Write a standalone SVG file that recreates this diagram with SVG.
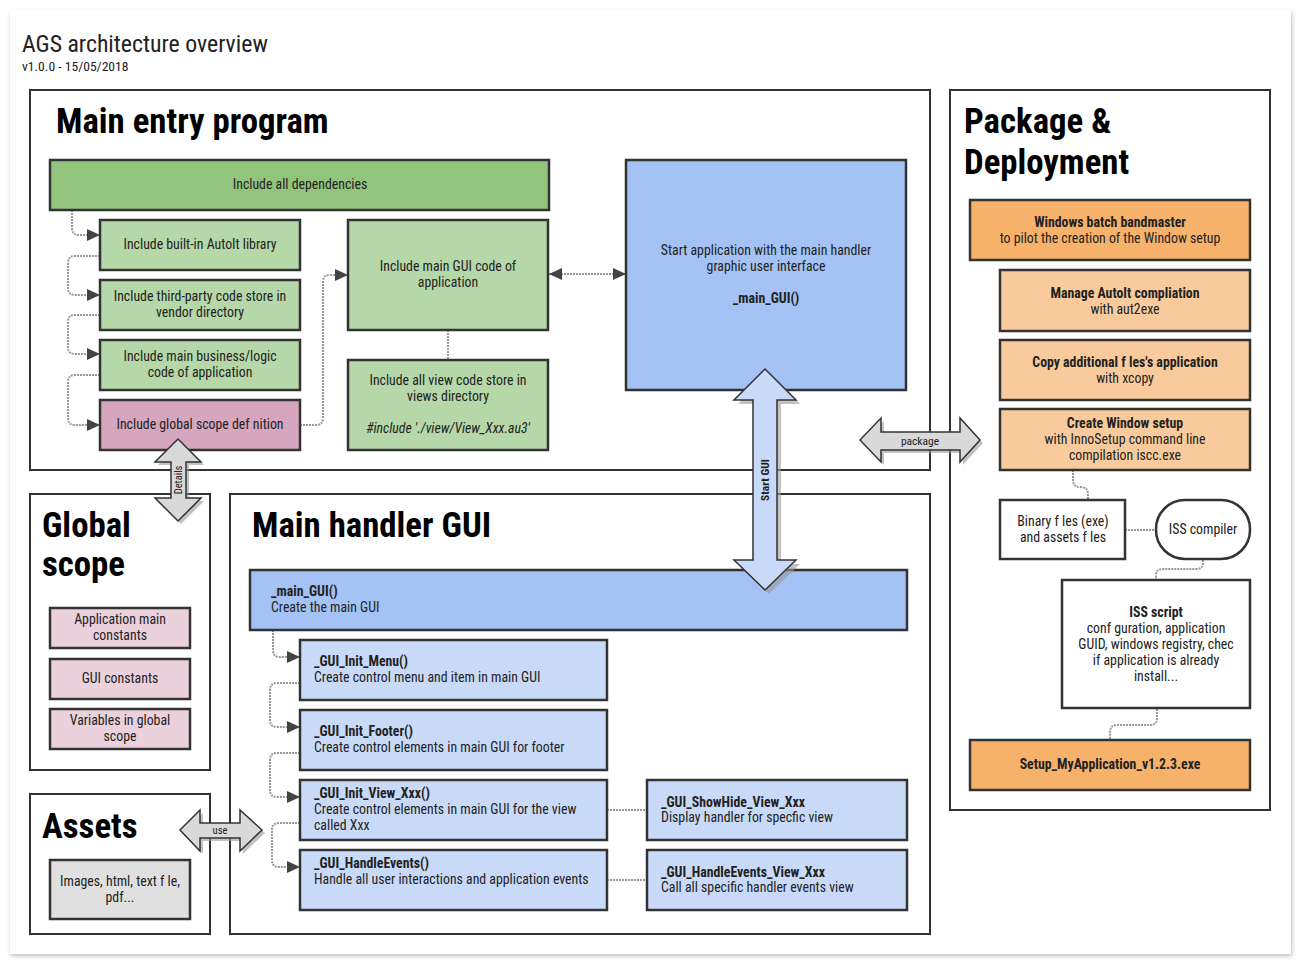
<svg xmlns="http://www.w3.org/2000/svg" width="1302" height="965" viewBox="0 0 1302 965">
<defs>
<filter id="sh" x="-5%" y="-5%" width="110%" height="110%"><feDropShadow dx="1" dy="2" stdDeviation="2" flood-color="#000" flood-opacity="0.25"/></filter>
<marker id="ah" markerWidth="13" markerHeight="12" refX="13" refY="6" orient="auto-start-reverse" markerUnits="userSpaceOnUse"><path d="M0,0 L13,6 L0,12 z" fill="#434343"/></marker>
<style>
text{font-family:"Roboto Condensed","Roboto",sans-serif;font-stretch:condensed;fill:#222}
.t{font-size:13.8px;text-anchor:middle}
.l{font-size:13.8px}
.b{font-weight:bold}
.h{font-size:34.8px;font-weight:bold;fill:#000}
.box{stroke:#333;stroke-width:2.5}
.cont{fill:#fff;stroke:#333;stroke-width:2}
.dg{fill:#93c47d}.lg{fill:#b6d7a8}.pk{fill:#d5a6bd}.lp{fill:#ead1dc}
.bl{fill:#a4c2f4}.lb{fill:#c9daf8}.or{fill:#f6b26b}.lo{fill:#f9cb9c}.wh{fill:#fff}.gr{fill:#e0e0e0}
.c{fill:none;stroke:#999;stroke-width:2;stroke-dasharray:2 1}
.ba{stroke:#333;stroke-width:1.5}
.bs{fill:#999;opacity:0.6}
</style>
</defs>
<rect x="0" y="0" width="1302" height="965" fill="#fff"/>
<rect x="10" y="10" width="1281" height="944" fill="#fff" filter="url(#sh)"/>
<g id="title">
<text x="22" y="52" style="font-size:23.8px">AGS architecture overview</text>
<text x="22" y="71" style="font-size:13.6px">v1.0.0 - 15/05/2018</text>
</g>
<g id="containers">
<g id="main-entry"><rect class="cont" x="30" y="90" width="900" height="380"/><text class="h" x="56" y="133">Main entry program</text></g>
<g id="package-deployment"><rect class="cont" x="950" y="90" width="320" height="720"/><text class="h" x="964" y="133">Package &amp;</text><text class="h" x="964" y="174">Deployment</text></g>
<g id="global-scope"><rect class="cont" x="30" y="494" width="180" height="276"/><text class="h" x="42" y="537">Global</text><text class="h" x="42" y="576">scope</text></g>
<g id="assets"><rect class="cont" x="30" y="794" width="180" height="140"/><text class="h" x="42" y="838">Assets</text></g>
<g id="main-handler"><rect class="cont" x="230" y="494" width="700" height="440"/><text class="h" x="252" y="537">Main handler GUI</text></g>
</g>
<g id="connectors">
<path class="c" d="M72,210 V228 Q72,235 79,235 H100" marker-end="url(#ah)"/>
<path class="c" d="M100,256 H75 Q68,256 68,263 V288 Q68,295 75,295 H100" marker-end="url(#ah)"/>
<path class="c" d="M100,315 H75 Q68,315 68,322 V347 Q68,354 75,354 H100" marker-end="url(#ah)"/>
<path class="c" d="M100,375 H75 Q68,375 68,382 V418 Q68,425 75,425 H100" marker-end="url(#ah)"/>
<path class="c" d="M300,425 H316 Q323,425 323,418 V282 Q323,275 330,275 H348" marker-end="url(#ah)"/>
<path class="c" d="M549,274 H626" marker-start="url(#ah)" marker-end="url(#ah)"/>
<path class="c" d="M448,330 V360"/>
<path class="c" d="M1073,470 V480 Q1073,487 1080,487 Q1088,487 1088,494 V500"/>
<path class="c" d="M1125,530 H1156"/>
<path class="c" d="M1203,560 V563 Q1203,569 1196,569 H1163 Q1156,569 1156,575 V580"/>
<path class="c" d="M1157,709 V718 Q1157,725 1150,725 H1117 Q1110,725 1110,732 V740"/>
<path class="c" d="M273,630 V650 Q273,657 280,657 H300" marker-end="url(#ah)"/>
<path class="c" d="M300,683 H277 Q270,683 270,690 V720 Q270,727 277,727 H300" marker-end="url(#ah)"/>
<path class="c" d="M300,753 H277 Q270,753 270,760 V790 Q270,797 277,797 H300" marker-end="url(#ah)"/>
<path class="c" d="M300,823 H279 Q272,823 272,830 V860 Q272,867 279,867 H300" marker-end="url(#ah)"/>
<path class="c" d="M607,810 H647"/>
<path class="c" d="M607,880 H647"/>
</g>
<g id="n-deps"><rect class="box dg" x="50" y="160" width="499" height="50"/><text class="t" x="300" y="189">Include all dependencies</text></g>
<g id="n-builtin"><rect class="box lg" x="100" y="220" width="200" height="50"/><text class="t" x="200" y="249">Include built-in AutoIt library</text></g>
<g id="n-vendor"><rect class="box lg" x="100" y="280" width="200" height="50"/><text class="t" x="200" y="301">Include third-party code store in</text><text class="t" x="200" y="317">vendor directory</text></g>
<g id="n-business"><rect class="box lg" x="100" y="340" width="200" height="50"/><text class="t" x="200" y="361">Include main business/logic</text><text class="t" x="200" y="377">code of application</text></g>
<g id="n-globaldef"><rect class="box pk" x="100" y="400" width="200" height="50"/><text class="t" x="200" y="429">Include global scope def nition</text></g>
<g id="n-maingui"><rect class="box lg" x="348" y="220" width="200" height="110"/><text class="t" x="448" y="271">Include main GUI code of</text><text class="t" x="448" y="287">application</text></g>
<g id="n-views"><rect class="box lg" x="348" y="360" width="200" height="90"/><text class="t" x="448" y="385">Include all view code store in</text><text class="t" x="448" y="401">views directory</text><text class="t" x="448" y="433" font-style="italic">#include './view/View_Xxx.au3'</text></g>
<g id="n-start"><rect class="box bl" x="626" y="160" width="280" height="230"/><text class="t" x="766" y="255">Start application with the main handler</text><text class="t" x="766" y="271">graphic user interface</text><text class="t b" x="766" y="303">_main_GUI()</text></g>
<g id="n-batch"><rect class="box or" x="970" y="200" width="280" height="60"/><text class="t b" x="1110" y="227">Windows batch bandmaster</text><text class="t" x="1110" y="243">to pilot the creation of the Window setup</text></g>
<g id="n-aut2exe"><rect class="box lo" x="1000" y="270" width="250" height="61"/><text class="t b" x="1125" y="298">Manage AutoIt compliation</text><text class="t" x="1125" y="314">with aut2exe</text></g>
<g id="n-xcopy"><rect class="box lo" x="1000" y="340" width="250" height="60"/><text class="t b" x="1125" y="367">Copy additional f les's application</text><text class="t" x="1125" y="383">with xcopy</text></g>
<g id="n-setup"><rect class="box lo" x="1000" y="409" width="250" height="61"/><text class="t b" x="1125" y="428">Create Window setup</text><text class="t" x="1125" y="444">with InnoSetup command line</text><text class="t" x="1125" y="460">compilation iscc.exe</text></g>
<g id="n-binary"><rect class="box wh" x="1000" y="500" width="125" height="59"/><text class="t" x="1063" y="526">Binary f les (exe)</text><text class="t" x="1063" y="542">and assets f les</text></g>
<g id="n-isscomp"><rect class="box wh" x="1156" y="500" width="94" height="59" rx="29" ry="29"/><text class="t" x="1203" y="534">ISS compiler</text></g>
<g id="n-issscript"><rect class="box wh" x="1062" y="580" width="188" height="128"/><text class="t b" x="1156" y="617">ISS script</text><text class="t" x="1156" y="633">conf guration, application</text><text class="t" x="1156" y="649">GUID, windows registry, chec</text><text class="t" x="1156" y="665">if application is already</text><text class="t" x="1156" y="681">install...</text></g>
<g id="n-exe"><rect class="box or" x="970" y="740" width="280" height="50"/><text class="t b" x="1110" y="769">Setup_MyApplication_v1.2.3.exe</text></g>
<g id="n-appconst"><rect class="box lp" x="50" y="608" width="140" height="40"/><text class="t" x="120" y="624">Application main</text><text class="t" x="120" y="640">constants</text></g>
<g id="n-guiconst"><rect class="box lp" x="50" y="659" width="140" height="40"/><text class="t" x="120" y="683">GUI constants</text></g>
<g id="n-vars"><rect class="box lp" x="50" y="709" width="140" height="40"/><text class="t" x="120" y="725">Variables in global</text><text class="t" x="120" y="741">scope</text></g>
<g id="n-assetfiles"><rect class="box gr" x="50" y="860" width="140" height="59"/><text class="t" x="120" y="886">Images, html, text f le,</text><text class="t" x="120" y="902">pdf...</text></g>
<g id="n-mainGUIfn"><rect class="box bl" x="250" y="570" width="657" height="60"/><text class="l b" x="271" y="596">_main_GUI()</text><text class="l" x="271" y="612">Create the main GUI</text></g>
<g id="n-menu"><rect class="box lb" x="300" y="640" width="307" height="60"/><text class="l b" x="314" y="666">_GUI_Init_Menu()</text><text class="l" x="314" y="682">Create control menu and item in main GUI</text></g>
<g id="n-footer"><rect class="box lb" x="300" y="710" width="307" height="60"/><text class="l b" x="314" y="736">_GUI_Init_Footer()</text><text class="l" x="314" y="752">Create control elements in main GUI for footer</text></g>
<g id="n-view"><rect class="box lb" x="300" y="780" width="307" height="60"/><text class="l b" x="314" y="798">_GUI_Init_View_Xxx()</text><text class="l" x="314" y="814">Create control elements in main GUI for the view</text><text class="l" x="314" y="830">called Xxx</text></g>
<g id="n-events"><rect class="box lb" x="300" y="850" width="307" height="60"/><text class="l b" x="314" y="868">_GUI_HandleEvents()</text><text class="l" x="314" y="884">Handle all user interactions and application events</text></g>
<g id="n-showhide"><rect class="box lb" x="647" y="780" width="260" height="60"/><text class="l b" x="661" y="807">_GUI_ShowHide_View_Xxx</text><text class="l" x="661" y="822">Display handler for specfic view</text></g>
<g id="n-eventsview"><rect class="box lb" x="647" y="850" width="260" height="60"/><text class="l b" x="661" y="877">_GUI_HandleEvents_View_Xxx</text><text class="l" x="661" y="892">Call all specific handler events view</text></g>
<g id="block-arrows">
<g id="a-details"><polygon class="bs" transform="translate(3,3)" points="178,439 201,462 186,462 186,498 201,498 178,521 155,498 171,498 171,462 155,462"/><polygon class="ba" fill="#d9d9d9" points="178,439 201,462 186,462 186,498 201,498 178,521 155,498 171,498 171,462 155,462"/><text transform="translate(182,480) rotate(-90)" style="font-size:10.5px;text-anchor:middle">Details</text></g>
<g id="a-startgui"><polygon class="bs" transform="translate(4,4)" points="765,369 796,400 777,400 777,560 796,560 765,590 734,560 753,560 753,400 734,400"/><polygon class="ba" fill="#c9daf8" points="765,369 796,400 777,400 777,560 796,560 765,590 734,560 753,560 753,400 734,400"/><text transform="translate(769,480) rotate(-90)" style="font-size:11.5px;font-weight:bold;text-anchor:middle">Start GUI</text></g>
<g id="a-package"><polygon class="bs" transform="translate(3,3)" points="860,440 881,418 881,432 960,432 960,418 980,440 960,462 960,450 881,450 881,462"/><polygon class="ba" fill="#d9d9d9" points="860,440 881,418 881,432 960,432 960,418 980,440 960,462 960,450 881,450 881,462"/><text x="920" y="445" style="font-size:11.5px;text-anchor:middle">package</text></g>
<g id="a-use"><polygon class="bs" transform="translate(3,3)" points="180,830 200,810 200,823 240,823 240,810 262,830 240,851 240,838 200,838 200,851"/><polygon class="ba" fill="#d9d9d9" points="180,830 200,810 200,823 240,823 240,810 262,830 240,851 240,838 200,838 200,851"/><text x="220" y="834" style="font-size:10.5px;text-anchor:middle">use</text></g>
</g>
</svg>
